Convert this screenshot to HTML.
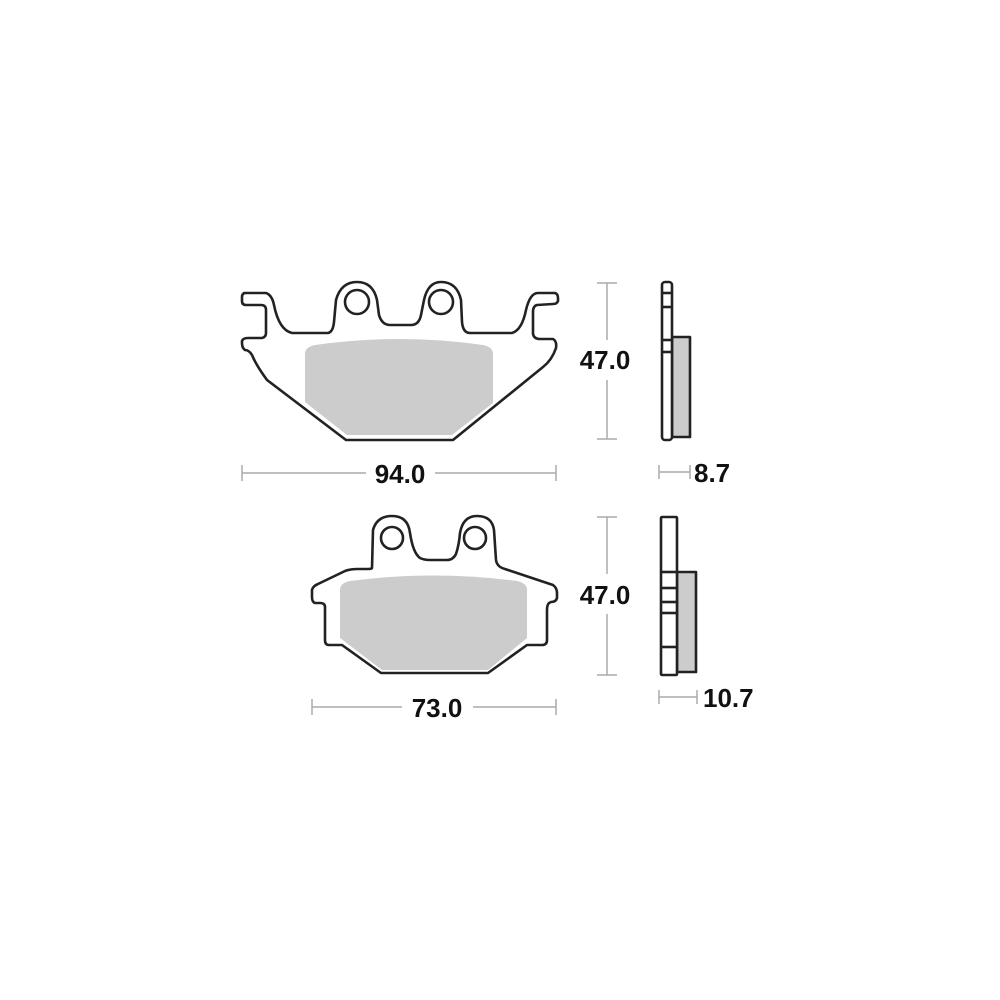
<!DOCTYPE html>
<html><head><style>body{margin:0;background:#fff}svg{display:block}</style></head>
<body>
<svg width="1000" height="1000" viewBox="0 0 1000 1000" xmlns="http://www.w3.org/2000/svg" font-family="Liberation Sans, Arial, sans-serif" font-weight="bold">
<rect width="1000" height="1000" fill="#fff"/>
<!-- friction pads -->
<path d="M305,354 Q305,347 315,345 Q399,333 483,345 Q493,347 493,354 L493,403 L452,435 L347,435 L305,402 Z" fill="#ccc"/>
<path d="M340,590 Q340,583 350,581 Q433,570 517,581 Q527,583 527,590 L527,638 L488,670 L382,670 L340,638 Z" fill="#ccc"/>
<g fill="none" stroke="#222" stroke-width="2.6" stroke-linejoin="round">
<!-- top pad -->
<path d="M244,293 L266,293 Q272,295 274,305 Q279,330 292,333 L328,333 Q333,332 334,322 L336,300 Q341,282 357,282 Q373,282 377,300 L379,315 Q382,325 390,325 L411,325 Q419,325 421,315 L424,300 Q428,282 441,282 Q457,282 461,300 L462,322 Q463,333 470,333 L512,333 Q522,330 526,310 Q530,293 538,293 L555,293 Q558,294 558,298 L558,301 Q557,304 553,304 L537,305 Q533,306 533,312 L533,334 Q534,339 540,339 L553,339 Q557,341 556,348 Q552,360 543,367 L453,440 L346,440 L267,380 Q256,365 252,355 Q249,350 245,350 Q242,348 242,343 L242,341 Q243,338 248,338 L262,338 Q266,337 266,333 L266,310 Q266,305 261,305 L246,305 Q242,305 242,301 L242,297 Q242,293 246,293 Z"/>
<circle cx="357" cy="302" r="12"/>
<circle cx="441" cy="302" r="12"/>
<!-- bottom pad -->
<path d="M372,568 L373,530 Q377,516 392,516 Q408,516 410,533 Q413,553 420,558 Q424,560 430,560 L447,560 Q453,560 456,554 Q459,545 460,533 Q463,516 477,516 Q492,516 494,530 L496,560 Q497,567 505,569 L553,585 Q557,588 557,593 L557,598 Q556,602 551,602 L549,603 Q547,605 547,610 L547,640 Q547,645 542,645 L527,645 L488,673 L381,673 L342,645 L329,645 Q325,645 325,640 L325,607 Q325,603 320,603 L315,603 Q312,602 312,597 L312,590 Q313,586 318,584 L345,571 Q350,569 358,569 L368,569 Q372,569 372,568 Z"/>
<circle cx="392" cy="538" r="11"/>
<circle cx="475" cy="538" r="11"/>
<!-- side views -->
<rect x="672" y="337" width="18" height="100" fill="#ccc"/>
<rect x="677" y="572" width="19" height="100" fill="#ccc"/>
<rect x="662" y="282" width="10" height="158" rx="3" fill="#fff"/>
<line x1="662" y1="293" x2="672" y2="293"/><line x1="662" y1="307" x2="672" y2="307"/>
<line x1="662" y1="340" x2="672" y2="340"/><line x1="662" y1="352" x2="672" y2="352"/>
<rect x="661" y="517" width="16" height="158" rx="1" fill="#fff"/>
<line x1="661" y1="572" x2="677" y2="572"/><line x1="661" y1="588" x2="677" y2="588"/>
<line x1="661" y1="602" x2="677" y2="602"/><line x1="661" y1="613" x2="677" y2="613"/>
<line x1="661" y1="647" x2="677" y2="647"/>
</g>
<!-- dimension lines -->
<g stroke="#aaa" stroke-width="1.5" fill="none">
<line x1="242" y1="473" x2="366" y2="473"/><line x1="435" y1="473" x2="556" y2="473"/>
<line x1="242" y1="465" x2="242" y2="481"/><line x1="556" y1="465" x2="556" y2="481"/>
<line x1="312" y1="707" x2="402" y2="707"/><line x1="473" y1="707" x2="556" y2="707"/>
<line x1="312" y1="699" x2="312" y2="715"/><line x1="556" y1="699" x2="556" y2="715"/>
<line x1="607" y1="283" x2="607" y2="340"/><line x1="607" y1="380" x2="607" y2="439"/>
<line x1="597" y1="283" x2="617" y2="283"/><line x1="597" y1="439" x2="617" y2="439"/>
<line x1="607" y1="517" x2="607" y2="574"/><line x1="607" y1="614" x2="607" y2="675"/>
<line x1="597" y1="517" x2="617" y2="517"/><line x1="597" y1="675" x2="617" y2="675"/>
<line x1="659" y1="472" x2="690" y2="472"/><line x1="659" y1="465" x2="659" y2="479"/><line x1="690" y1="465" x2="690" y2="479"/>
<line x1="659" y1="697" x2="697" y2="697"/><line x1="659" y1="690" x2="659" y2="704"/><line x1="697" y1="690" x2="697" y2="704"/>
</g>
<g fill="#111" font-size="26">
<text x="400" y="483" text-anchor="middle">94.0</text>
<text x="437" y="717" text-anchor="middle">73.0</text>
<text x="605" y="369" text-anchor="middle">47.0</text>
<text x="605" y="604" text-anchor="middle">47.0</text>
<text x="694" y="482">8.7</text>
<text x="703" y="707">10.7</text>
</g>
</svg>
</body></html>
